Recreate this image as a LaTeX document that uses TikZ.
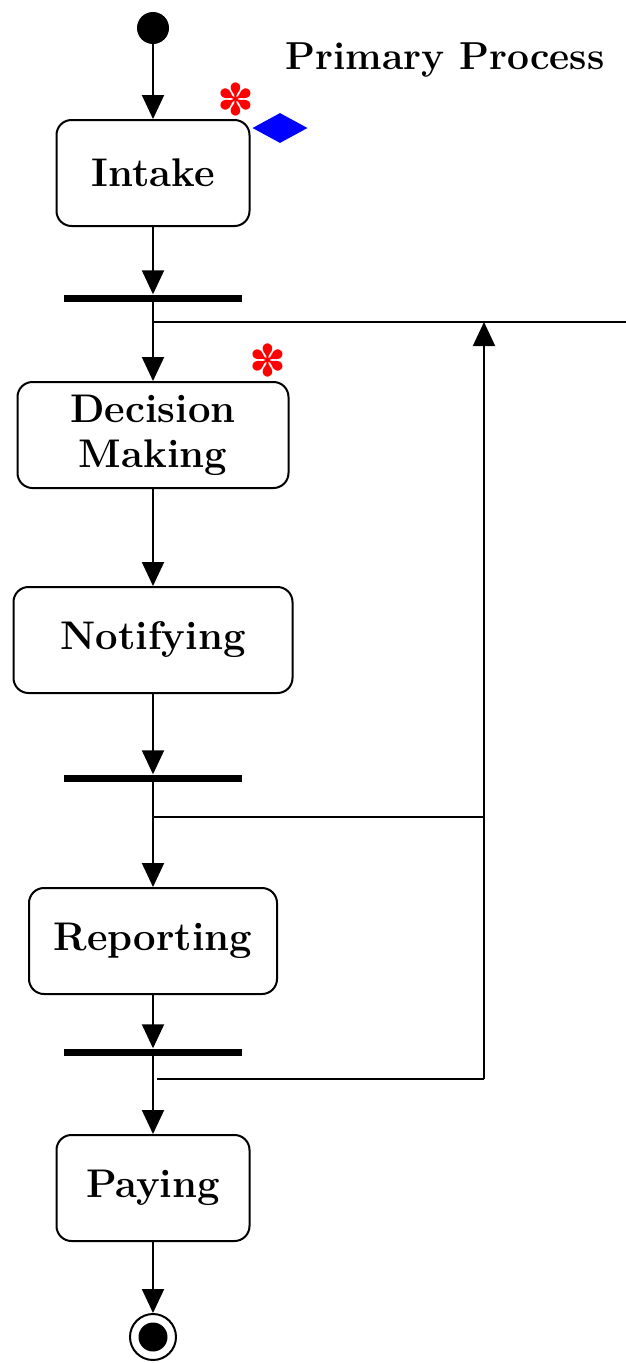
\documentclass[tikz,border=0pt]{standalone}
\usepackage{fontspec}
\newfontfamily\symfont{DejaVu Sans}
\usepackage{tikz}
\usetikzlibrary{shapes.geometric, arrows.meta, positioning, calc}
\tikzstyle{activity} = [rectangle,
rounded corners=15pt,
minimum height=106pt,
text centered, align=center,
draw=black, line width=2pt,
font=\fontsize{40}{45}\selectfont\bfseries]
\tikzstyle{bar} = [rectangle, fill=black,
minimum width=178pt, minimum height=7pt, inner sep=0pt]
\tikzstyle{startdot} = [circle, fill=black, minimum size=32pt, inner sep=0pt]
\tikzstyle{enddot} = [circle, draw=black, line width=2pt, minimum size=46pt, inner sep=0pt]
\tikzstyle{asterisk} = [text=red, inner sep=0pt, font=\symfont\fontsize{44}{44}\selectfont]
\tikzstyle{gem} = [diamond, fill=blue, minimum width=55pt, minimum height=30pt, inner sep=0pt]
\tikzstyle{arrow} = [line width=2pt, -{Triangle[length=24pt,width=22pt]}]
\tikzstyle{line} = [line width=2pt]

\begin{document}
\begin{tikzpicture}[x=1pt, y=1pt]
            \useasboundingbox (0,0) rectangle (626,-1363);
            \node (start) [startdot] at (153,-28) {};
            \node (title) at (445,-60) [font=\fontsize{39}{45}\selectfont\bfseries] {Primary Process};
            \node (intake) [activity, minimum width=193pt] at (153,-173) {Intake};
            \node (flag1) [asterisk] at (236,-99) {✽};
            \node (gem1) [gem] at (280,-128) {};
            \node (bar1) [bar] at (153,-298) {};
            \node (decision) [activity, minimum width=271pt] at (153,-435) {Decision\\Making};
            \node (flag2) [asterisk] at (268,-360) {✽};
            \node (notify) [activity, minimum width=279pt] at (153,-640) {Notifying};
            \node (bar2) [bar] at (153,-778) {};
            \node (report) [activity, minimum width=248pt] at (153,-941) {Reporting};
            \node (bar3) [bar] at (153,-1052) {};
            \node (paying) [activity, minimum width=193pt] at (153,-1188) {Paying};
            \node (stop) [enddot] at (153,-1337) {};
            \fill (stop.center) circle (14.5);

            \coordinate (split1) at (153,-322);
            \coordinate (exit) at (626,-322);
            \coordinate (join1) at (484,-322);
            \coordinate (split2) at (153,-817);
            \coordinate (split3) at (157,-1079);
            \coordinate (back) at (484,-1079);

            \draw [arrow] (start) -- (intake);
            \draw [arrow] (intake) -- (bar1.north);
            \draw [arrow] (bar1.center) -- (decision);
            \draw [arrow] (decision) -- (notify);
            \draw [arrow] (notify) -- (bar2.north);
            \draw [arrow] (bar2.center) -- (report);
            \draw [arrow] (report) -- (bar3.north);
            \draw [arrow] (bar3.center) -- (paying);
            \draw [arrow] (paying) -- (stop);

            \draw [line] (split1) -- (exit);
            \draw [line] (split2) -- (split2 -| back);
            \draw [line] (split3) -- (back);
            \draw [arrow] (back) -- (join1);
        \end{tikzpicture}
\end{document}
